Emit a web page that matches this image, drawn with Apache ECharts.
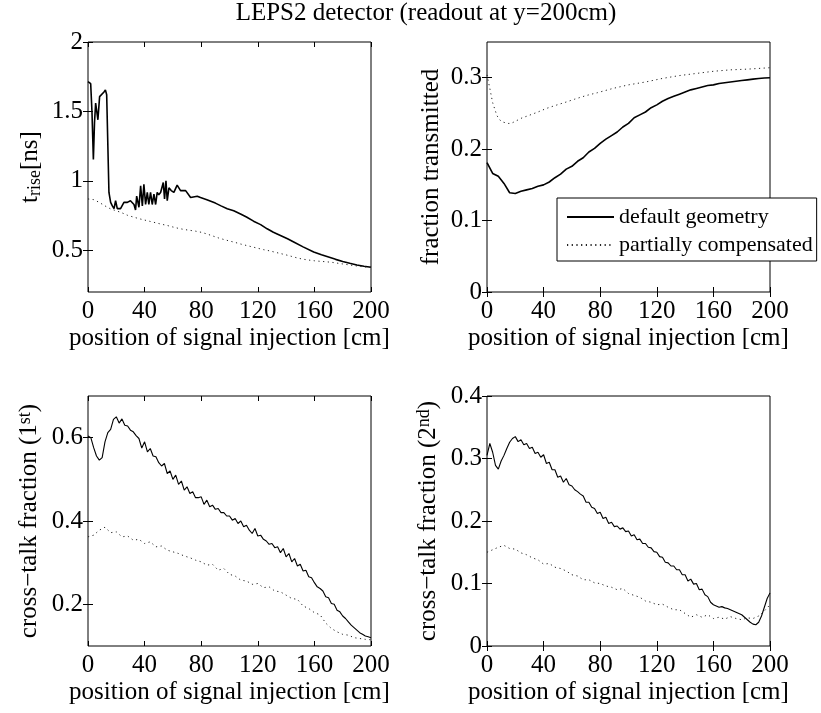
<!DOCTYPE html>
<html>
<head>
<meta charset="utf-8">
<script src="https://cdn.jsdelivr.net/npm/echarts@6/dist/echarts.min.js"></script>
<style>
html, body { margin: 0; padding: 0; background: #fff; }
#chart { width: 821px; height: 713px; }
</style>
</head>
<body>
<div id="chart"></div>
<script>
// 横坐标：信号注入位置 (cm)
var POS2 = [0, 2, 4, 6, 8, 10, 12, 14, 16, 18, 20, 22, 24, 26, 28, 30, 32, 34, 36, 38,
    40, 42, 44, 46, 48, 50, 52, 54, 56, 58, 60, 62, 64, 66, 68, 70, 72, 74, 76, 78,
    80, 82, 84, 86, 88, 90, 92, 94, 96, 98, 100, 102, 104, 106, 108, 110, 112, 114, 116, 118,
    120, 122, 124, 126, 128, 130, 132, 134, 136, 138, 140, 142, 144, 146, 148, 150, 152, 154, 156, 158,
    160, 162, 164, 166, 168, 170, 172, 174, 176, 178, 180, 182, 184, 186, 188, 190, 192, 194, 196, 198, 200];
var POS4 = [0, 4, 8, 12, 16, 20, 24, 28, 32, 36, 40, 44, 48, 52, 56, 60, 64, 68, 72, 76,
    80, 84, 88, 92, 96, 100, 104, 108, 112, 116, 120, 124, 128, 132, 136, 140, 144, 148, 152, 156,
    160, 164, 168, 172, 176, 180, 184, 188, 192, 196, 200];
var X_TICKS = [0, 40, 80, 120, 160, 200];

// 1. 上左：t_rise
var TL_DEF_X = [0, 1.9, 2.8, 3.8, 4.6, 5.4, 6.2, 7, 8.2, 9.5,
    11.3, 12.3, 13.2, 14.4, 14.8, 16, 17.2, 18.4, 19.5, 20.7,
    23, 25.4, 27.8, 30, 32.5, 33.6, 34.4, 36, 37.2, 38.4,
    39.5, 40.7, 41.9, 43, 44.2, 45.4, 46.6, 47.8, 48.9, 50,
    51.3, 53.2, 54.1, 55.1, 56, 57.2, 58.8, 60.7, 63, 65.4,
    69, 72.5, 77.2, 79.5, 84, 90, 94, 98.4, 103, 107.8,
    112, 117, 122, 126.6, 131, 136, 141, 145.4, 152, 159.5,
    165, 170, 175, 180, 185, 190, 195, 200];
var TL_DEF = [1.714, 1.70, 1.50, 1.155, 1.42, 1.56, 1.50, 1.44, 1.607, 1.61,
    1.64, 1.655, 1.62, 1.61, 0.917, 0.845, 0.82, 0.80, 0.857, 0.80,
    0.80, 0.845, 0.845, 0.857, 0.83, 0.79, 0.89, 0.81, 0.964, 0.82,
    0.976, 0.83, 0.917, 0.83, 0.917, 0.83, 0.905, 0.83, 0.917, 0.90,
    0.917, 0.988, 0.87, 1.0, 0.857, 0.95, 0.93, 0.917, 0.97, 0.93,
    0.93, 0.88, 0.89, 0.88, 0.865, 0.84, 0.82, 0.80, 0.785, 0.762,
    0.74, 0.71, 0.685, 0.655, 0.63, 0.607, 0.583, 0.56, 0.525, 0.488,
    0.468, 0.452, 0.435, 0.42, 0.407, 0.395, 0.386, 0.378];
var TL_PC = [0.87, 0.865, 0.845, 0.82, 0.798, 0.785, 0.77, 0.752, 0.74, 0.728,
    0.718, 0.708, 0.698, 0.688, 0.679, 0.668, 0.658, 0.65, 0.644, 0.638,
    0.63, 0.618, 0.604, 0.59, 0.578, 0.567, 0.557, 0.545, 0.535, 0.525,
    0.515, 0.505, 0.497, 0.487, 0.477, 0.467, 0.456, 0.445, 0.436, 0.43,
    0.425, 0.421, 0.418, 0.414, 0.408, 0.402, 0.396, 0.39, 0.385, 0.38, 0.377];

// 2. 上右：透射比例
var TR_DEF = [0.181, 0.166, 0.162, 0.152, 0.139, 0.138, 0.141, 0.143, 0.145, 0.148,
    0.150, 0.154, 0.160, 0.165, 0.172, 0.176, 0.183, 0.188, 0.196, 0.201,
    0.208, 0.214, 0.219, 0.224, 0.231, 0.236, 0.244, 0.248, 0.252, 0.258,
    0.262, 0.267, 0.271, 0.274, 0.277, 0.280, 0.283, 0.285, 0.287, 0.289,
    0.290, 0.292, 0.293, 0.294, 0.295, 0.296, 0.297, 0.298, 0.299, 0.2995, 0.300];
var TR_PC_X = [0, 2, 3, 4, 5.5, 7, 9, 11, 13, 15, 17, 19, 22, 25, 28, 32, 36, 42, 48, 56,
    62, 70, 78, 89, 100, 112, 124, 136, 148, 160, 172, 184, 200];
var TR_PC = [0.304, 0.285, 0.275, 0.265, 0.256, 0.247, 0.241, 0.238, 0.237, 0.236,
    0.236, 0.238, 0.241, 0.244, 0.246, 0.249, 0.252, 0.257, 0.261, 0.266,
    0.270, 0.275, 0.279, 0.285, 0.290, 0.294, 0.299, 0.303, 0.306, 0.309,
    0.311, 0.312, 0.314];

// 3. 下左：一阶串扰
var BL_DEF = [0.604, 0.600, 0.576, 0.556, 0.546, 0.552, 0.590, 0.612, 0.620, 0.644,
    0.650, 0.635, 0.645, 0.630, 0.628, 0.618, 0.614, 0.605, 0.598, 0.575,
    0.590, 0.566, 0.574, 0.556, 0.554, 0.540, 0.532, 0.538, 0.514, 0.520,
    0.500, 0.510, 0.488, 0.496, 0.474, 0.482, 0.466, 0.470, 0.456, 0.456,
    0.458, 0.440, 0.450, 0.434, 0.438, 0.428, 0.430, 0.420, 0.420, 0.412,
    0.412, 0.402, 0.406, 0.394, 0.400, 0.386, 0.390, 0.378, 0.370, 0.382,
    0.364, 0.366, 0.356, 0.352, 0.344, 0.346, 0.336, 0.338, 0.324, 0.334,
    0.314, 0.322, 0.302, 0.310, 0.292, 0.296, 0.280, 0.282, 0.266, 0.264,
    0.252, 0.242, 0.238, 0.232, 0.218, 0.216, 0.202, 0.200, 0.186, 0.182,
    0.172, 0.166, 0.158, 0.150, 0.144, 0.138, 0.132, 0.128, 0.124, 0.122, 0.120];
var BL_PC = [0.362, 0.366, 0.378, 0.385, 0.372, 0.374, 0.362, 0.364, 0.354, 0.356,
    0.346, 0.350, 0.338, 0.340, 0.330, 0.326, 0.322, 0.316, 0.312, 0.306,
    0.302, 0.294, 0.296, 0.282, 0.286, 0.272, 0.268, 0.258, 0.256, 0.248,
    0.250, 0.240, 0.242, 0.232, 0.230, 0.222, 0.214, 0.212, 0.196, 0.190,
    0.180, 0.175, 0.155, 0.142, 0.134, 0.128, 0.126, 0.120, 0.118, 0.116, 0.115];

// 4. 下右：二阶串扰
var BR_DEF = [0.305, 0.324, 0.310, 0.289, 0.283, 0.296, 0.305, 0.316, 0.326, 0.332,
    0.335, 0.327, 0.330, 0.322, 0.324, 0.316, 0.318, 0.308, 0.310, 0.302,
    0.306, 0.292, 0.294, 0.282, 0.282, 0.270, 0.272, 0.262, 0.268, 0.258,
    0.256, 0.250, 0.247, 0.243, 0.240, 0.230, 0.230, 0.222, 0.220, 0.212,
    0.214, 0.204, 0.206, 0.196, 0.198, 0.191, 0.192, 0.187, 0.189, 0.183,
    0.184, 0.176, 0.178, 0.170, 0.171, 0.164, 0.164, 0.158, 0.157, 0.151,
    0.150, 0.143, 0.142, 0.134, 0.133, 0.128, 0.128, 0.122, 0.122, 0.114,
    0.114, 0.104, 0.107, 0.099, 0.100, 0.090, 0.091, 0.082, 0.079, 0.070,
    0.066, 0.064, 0.062, 0.063, 0.061, 0.060, 0.058, 0.056, 0.054, 0.052,
    0.050, 0.046, 0.042, 0.038, 0.035, 0.034, 0.038, 0.048, 0.062, 0.076, 0.085];
var BR_PC = [0.150, 0.154, 0.158, 0.161, 0.156, 0.155, 0.149, 0.146, 0.141, 0.138,
    0.131, 0.132, 0.126, 0.124, 0.120, 0.114, 0.112, 0.106, 0.106, 0.101,
    0.100, 0.096, 0.094, 0.090, 0.092, 0.084, 0.081, 0.078, 0.072, 0.070,
    0.066, 0.067, 0.062, 0.058, 0.058, 0.052, 0.046, 0.050, 0.046, 0.050,
    0.044, 0.046, 0.043, 0.047, 0.044, 0.042, 0.045, 0.044, 0.048, 0.056, 0.066];

// 纵轴刻度
var TL_TICKS = [0.5, 1, 1.5, 2];
var TR_TICKS = [0, 0.1, 0.2, 0.3];
var BL_TICKS = [0.2, 0.4, 0.6];
var BR_TICKS = [0, 0.1, 0.2, 0.3, 0.4];

var FONT = '"Liberation Serif", "Times New Roman", serif';
var NAME_DEF = 'default geometry';
var NAME_PC = 'partially compensated';

function pairs(xs, ys) {
    return xs.map(function(x, i) { return [x, ys[i]]; });
}

var chart = echarts.init(document.getElementById('chart'));

// 每个子图的位置与纵轴
var panels = [
    { left: 88, top: 42, min: 0.2, max: 2, ticks: TL_TICKS, gap: 44,
      name: '{t|t}{s|rise}{t|[ns]}' },
    { left: 487, top: 42, min: 0, max: 0.35, ticks: TR_TICKS, gap: 42,
      name: '{t|fraction transmitted}' },
    { left: 88, top: 396, min: 0.1, max: 0.7, ticks: BL_TICKS, gap: 42,
      name: '{b|cross\u2212talk fraction (1}{p|st}{b|)}' },
    { left: 487, top: 396, min: 0, max: 0.4, ticks: BR_TICKS, gap: 46,
      name: '{b|cross\u2212talk fraction (2}{p|nd}{b|)}' }
];

var tickStyle = { inside: true, length: 5, lineStyle: { color: '#000', width: 1 } };
var richName = {
    t: { fontSize: 25, fontFamily: FONT, color: '#000', verticalAlign: 'top', lineHeight: 26 },
    s: { fontSize: 18, fontFamily: FONT, color: '#000', verticalAlign: 'bottom', lineHeight: 18, padding: [16, 0, 0, 0] },
    b: { fontSize: 25, fontFamily: FONT, color: '#000', verticalAlign: 'bottom', lineHeight: 26 },
    p: { fontSize: 18, fontFamily: FONT, color: '#000', verticalAlign: 'top', lineHeight: 18, padding: [0, 0, 14, 0] }
};
function fmt(v) { return String(Math.round(v * 100) / 100); }

var grids = [], xAxes = [], yAxes = [];
panels.forEach(function(p, i) {
    grids.push({ left: p.left, top: p.top, width: 283, height: 250, show: true,
        borderColor: '#000', borderWidth: 1, backgroundColor: '#fff' });
    xAxes.push({
        gridIndex: i, type: 'value', position: 'bottom', min: 0, max: 200, interval: 40,
        name: 'position of signal injection [cm]', nameLocation: 'middle', nameGap: 34,
        nameTextStyle: { fontSize: 25, fontFamily: FONT, color: '#000' },
        axisLine: { show: false }, axisTick: tickStyle, splitLine: { show: false },
        axisLabel: { fontSize: 25, fontFamily: FONT, color: '#000', margin: 7,
            customValues: X_TICKS }
    });
    xAxes.push({
        gridIndex: i, type: 'value', position: 'top', min: 0, max: 200, interval: 40,
        axisLine: { show: false }, axisTick: tickStyle, splitLine: { show: false },
        axisLabel: { show: false }
    });
    yAxes.push({
        gridIndex: i, type: 'value', position: 'left', min: p.min, max: p.max,
        name: p.name, nameLocation: 'middle', nameGap: p.gap,
        nameTextStyle: { rich: richName },
        axisLine: { show: false }, splitLine: { show: false },
        axisTick: { inside: true, length: 5, lineStyle: { color: '#000' }, customValues: p.ticks },
        axisLabel: { fontSize: 25, fontFamily: FONT, color: '#000', margin: 5,
            customValues: p.ticks, formatter: fmt }
    });
    yAxes.push({
        gridIndex: i, type: 'value', position: 'right', min: p.min, max: p.max,
        axisLine: { show: false }, splitLine: { show: false },
        axisTick: { inside: true, length: 5, lineStyle: { color: '#000' }, customValues: p.ticks },
        axisLabel: { show: false }
    });
});

var solidTop = { color: '#000', width: 1.6 };
var solidBot = { color: '#000', width: 1.1 };
var dotted = { color: '#222', width: 1, type: [1.2, 3.5] };

function line(name, gi, data, style) {
    return { name: name, type: 'line', xAxisIndex: gi * 2, yAxisIndex: gi * 2,
        data: data, symbol: 'none', lineStyle: style, itemStyle: { color: '#000' },
        animation: false, z: 3 };
}

var series = [
    line(NAME_DEF, 0, pairs(TL_DEF_X, TL_DEF), solidTop),
    line(NAME_PC, 0, pairs(POS4, TL_PC), dotted),
    line(NAME_DEF, 1, pairs(POS4, TR_DEF), solidTop),
    line(NAME_PC, 1, pairs(TR_PC_X, TR_PC), dotted),
    line(NAME_DEF, 2, pairs(POS2, BL_DEF), solidBot),
    line(NAME_PC, 2, pairs(POS4, BL_PC), dotted),
    line(NAME_DEF, 3, pairs(POS2, BR_DEF), solidBot),
    line(NAME_PC, 3, pairs(POS4, BR_PC), dotted)
];

chart.setOption({
    animation: false,
    backgroundColor: '#fff',
    grid: grids,
    xAxis: xAxes,
    yAxis: yAxes,
    series: series,
    legend: {
        data: [NAME_DEF, NAME_PC],
        orient: 'vertical', left: 557, top: 198,
        itemWidth: 47, itemHeight: 20, itemGap: 6,
        padding: [8, 4, 5, 9],
        itemStyle: { opacity: 0 },
        backgroundColor: '#fff', borderColor: '#000', borderWidth: 1, borderRadius: 0,
        textStyle: { fontFamily: FONT, fontSize: 22, color: '#000' },
        selectedMode: false, z: 10
    },
    graphic: [{
        type: 'text', x: 426, y: 13,
        style: { text: 'LEPS2 detector (readout at y=200cm)', font: '25px ' + FONT,
            fill: '#000', align: 'center', verticalAlign: 'middle' }
    }]
});
</script>
</body>
</html>
